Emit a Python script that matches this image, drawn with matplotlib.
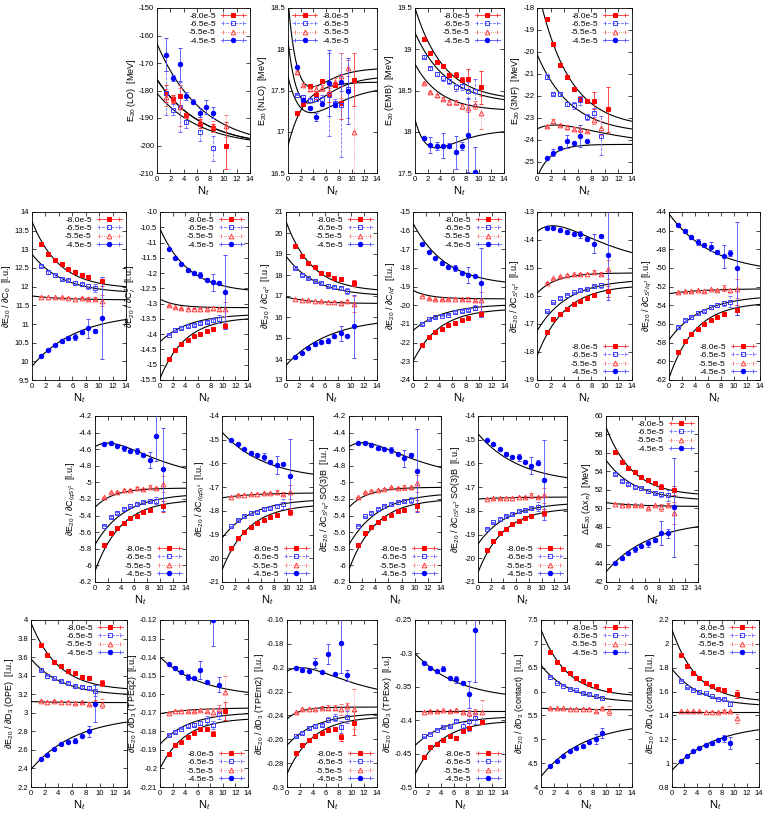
import numpy as np
import matplotlib
matplotlib.use('Agg')
import matplotlib.pyplot as plt
from matplotlib.lines import Line2D
from matplotlib.legend_handler import HandlerLine2D
from matplotlib.ticker import MultipleLocator, FuncFormatter

plt.rcParams['font.family'] = ['Liberation Sans', 'DejaVu Sans']
plt.rcParams['mathtext.fontset'] = 'custom'
plt.rcParams['mathtext.rm'] = 'Liberation Sans'
plt.rcParams['mathtext.it'] = 'Liberation Sans:italic'

N = np.nan
nt = [1.4, 2.4, 3.4, 4.4, 5.4, 6.4, 7.4, 8.4, 9.4, 10.4]
series_labels = ['-8.0e-5', '-6.5e-5', '-5.5e-5', '-4.5e-5']

# ---- row 1 ----
lo_vals = [[-181, -183, -182, -189, N, -192, N, -193.5, N, -200],
           [-181, -187, -186, -191.5, N, -195, N, -201, N, N],
           [-182.5, -183, -186, -189, N, -191, N, -193, N, -193],
           [-167, -175.5, -170.5, -182, -184, -188, -186, -188, N, N]]
lo_errs = [[3, 1.5, 4, 1, 0, 1.5, 0, 1.5, 0, 8.5],
           [8, 2, 9, 2, 0, 3.5, 0, 4.5, 0, 0],
           [3, 1, 7, 1, 0, 1.5, 0, 2, 0, 4],
           [6, 1, 6, 1.5, 1, 1.5, 2.5, 2, 0, 0]]
lo_fits = [(-176, -197.5, 0.15, 0), (-181, -198, 0.15, 0),
           (-176, -197.5, 0.15, 0), (-163, -196, 0.15, 0)]

nlo_vals = [[17.23, 17.34, 17.56, 17.45, 17.62, 17.46, 17.57, 17.35, N, 17.63],
            [17.45, 17.42, 17.38, 17.40, 17.40, 17.45, 17.35, 17.33, 17.52, N],
            [17.72, 17.57, 17.52, 17.52, 17.53, 17.48, 17.60, 17.68, 17.77, 17.0],
            [17.79, 17.38, 17.29, 17.18, 17.34, 17.59, 17.33, 17.60, 17.49, N]]
nlo_errs = [[0.01, 0.03, 0.02, 0.05, 0.01, 0.1, 0.03, 0.2, 0, 0.32],
            [0.01, 0.02, 0.02, 0.03, 0.05, 0.5, 0.05, 0.63, 0.35, 0],
            [0.02, 0.02, 0.03, 0.03, 0.04, 0.05, 0.05, 0.27, 0.1, 0.95],
            [0.01, 0.03, 0.02, 0.05, 0.02, 0.4, 0.03, 0.1, 0.4, 0]]
nlo_fits = [(16.83, 17.6, 0.4, 0), (17.67, 17.5, 0.3, -0.3),
            (18.6, 17.76, 0.45, -0.55), (18.1, 17.65, 0.4, -0.5)]

emb_vals = [[19.13, 18.95, 18.85, 18.80, 18.69, 18.69, 18.63, 18.64, N, 18.54],
            [18.91, 18.77, 18.70, 18.65, 18.62, 18.54, 18.56, 18.50, 18.49, N],
            [18.59, 18.48, 18.44, 18.40, 18.36, 18.36, 18.31, 18.29, 18.32, 18.23],
            [17.92, 17.84, 17.83, 17.83, 17.83, 17.75, 17.83, 17.96, 17.51, N]]
emb_errs = [[0.01, 0.02, 0.02, 0.02, 0.02, 0.03, 0.03, 0.12, 0, 0.2],
            [0.02, 0.02, 0.03, 0.03, 0.04, 0.04, 0.05, 0.1, 0.15, 0],
            [0.01, 0.01, 0.02, 0.02, 0.03, 0.03, 0.03, 0.05, 0.05, 0.2],
            [0.02, 0.1, 0.05, 0.15, 0.03, 0.2, 0.05, 0.45, 0.3, 0]]
emb_fits = [(19.5, 18.43, 0.22, 0), (19.2, 18.39, 0.2, 0),
            (18.82, 18.27, 0.25, 0), (18.15, 18.0, 0.35, -0.25)]

tnf_vals = [[-18.5, -19.64, -20.59, -21.14, -21.67, -22.12, -22.24, -22.21, N, -22.6],
            [-21.12, -21.9, -21.93, -22.36, -22.42, -22.2, -22.95, -22.75, -23.8, N],
            [-23.37, -23.13, -23.32, -23.40, -23.48, -23.48, -23.6, -23.07, -23.45, N],
            [-24.8, -24.57, -24.37, -24.05, -24.13, -23.83, -24.03, N, N, N]]
tnf_errs = [[0.02, 0.1, 0.05, 0.05, 0.05, 0.1, 0.05, 0.38, 0, 1.02],
            [0.1, 0.05, 0.05, 0.1, 0.15, 0.2, 0.15, 0.2, 0.9, 0],
            [0.03, 0.08, 0.05, 0.1, 0.05, 0.15, 0.05, 0.2, 0.3, 0],
            [0.05, 0.15, 0.05, 0.3, 0.05, 0.5, 0.05, 0, 0, 0]]
tnf_fits = [(-17.0, -23.15, 0.22, 0), (-20.1, -23.5, 0.2, 0),
            (-23.5, -23.9, 0.2, 0.3), (-25.7, -24.2, 0.5, 0)]

# ---- row 2 ----
c0_vals = [[13.15, 12.88, 12.72, 12.60, 12.46, 12.40, 12.32, 12.25, N, 12.15],
           [12.55, 12.38, 12.30, 12.21, 12.17, 12.10, 12.06, 12.01, 11.97, N],
           [11.73, 11.72, 11.72, 11.71, 11.70, 11.68, 11.69, 11.67, 11.68, 11.62],
           [10.15, 10.30, 10.44, 10.55, 10.63, 10.66, 10.79, 10.88, 10.81, 11.17]]
c0_errs = [[.02, .02, .02, .02, .02, .02, .03, .04, 0, .12],
           [.02, .03, .03, .03, .03, .04, .04, .06, .1, 0],
           [.01, .01, .01, .01, .01, .02, .02, .04, .04, .15],
           [.02, .03, .03, .05, .05, .08, .05, .25, .05, 1.1]]
c0_fits = [(13.75, 12.0, 0.25, 0), (12.87, 11.87, 0.22, 0),
           (11.75, 11.65, 0.2, 0), (9.87, 11.12, 0.15, 0)]

ci_vals = [[-14.8, -14.52, -14.32, -14.20, -14.05, -14.0, -13.88, -13.82, N, -13.72],
           [-14.02, -13.87, -13.80, -13.73, -13.70, -13.63, -13.60, -13.55, -13.50, N],
           [-13.05, -13.12, -13.15, -13.16, -13.16, -13.16, -13.17, -13.15, -13.18, -13.17],
           [-11.2, -11.5, -11.71, -11.9, -12.01, -12.06, -12.21, -12.3, -12.31, -12.62]]
ci_errs = [[.02, .02, .02, .02, .02, .02, .02, .03, 0, .1],
           [.02, .02, .02, .02, .03, .03, .04, .05, .12, 0],
           [.02, .02, .02, .02, .02, .02, .03, .05, .05, .22],
           [.02, .03, .03, .05, .05, .1, .05, .28, .05, 1.22]]
ci_fits = [(-15.45, -13.5, 0.25, 0), (-14.25, -13.38, 0.22, 0),
           (-12.85, -13.13, 0.4, 0), (-10.55, -12.55, 0.22, 0)]

cq_vals = [[19.4, 18.9, 18.55, 18.38, 18.1, 18.05, 17.87, 17.8, N, 17.62],
           [18.32, 18.0, 17.85, 17.72, 17.62, 17.5, 17.45, 17.37, 17.25, N],
           [16.87, 16.81, 16.8, 16.76, 16.75, 16.73, 16.73, 16.65, 16.75, 16.62],
           [14.1, 14.3, 14.52, 14.7, 14.82, 14.88, 15.08, 15.22, 15.08, 15.55]]
cq_errs = [[.03, .03, .03, .03, .03, .04, .04, .05, 0, .15],
           [.03, .03, .03, .04, .04, .05, .05, .07, .15, 0],
           [.02, .02, .02, .02, .02, .03, .03, .1, .05, .4],
           [.03, .05, .05, .1, .08, .12, .08, .35, .05, 1.5]]
cq_fits = [(20.55, 17.3, 0.25, 0), (18.9, 17.07, 0.22, 0),
           (16.95, 16.65, 0.25, 0), (13.7, 15.7, 0.15, 0)]

ciq_vals = [[-22.1, -21.72, -21.45, -21.25, -21.05, -20.92, -20.78, -20.68, N, -20.48],
            [-21.0, -20.75, -20.65, -20.55, -20.5, -20.38, -20.32, -20.25, -20.12, N],
            [-19.5, -19.62, -19.68, -19.68, -19.68, -19.65, -19.68, -19.65, -19.7, -19.7],
            [-16.7, -17.15, -17.48, -17.75, -17.92, -18.0, -18.25, -18.38, -18.43, -18.8]]
ciq_errs = [[.03, .03, .03, .03, .03, .04, .04, .05, 0, .15],
            [.03, .03, .03, .04, .04, .05, .05, .07, .15, 0],
            [.02, .02, .02, .02, .03, .03, .03, .1, .05, .4],
            [.03, .05, .05, .1, .08, .15, .08, .45, .05, 1.85]]
ciq_fits = [(-23.0, -20.25, 0.25, 0), (-21.35, -20.0, 0.22, 0),
            (-19.2, -19.65, 0.4, 0), (-15.6, -18.75, 0.2, 0)]

csq_vals = [[-17.27, -16.83, -16.63, -16.45, -16.28, -16.18, -16.07, -15.98, N, -15.83],
            [-16.55, -16.23, -16.08, -15.95, -15.87, -15.78, -15.75, -15.66, -15.62, N],
            [-15.52, -15.37, -15.3, -15.25, -15.22, -15.2, -15.2, -15.15, -15.2, -15.05],
            [-13.58, -13.56, -13.65, -13.72, -13.78, -13.8, -13.95, -14.13, -13.87, -14.55]]
csq_errs = [[.02, .02, .02, .02, .02, .03, .03, .04, 0, .2],
            [.02, .02, .03, .03, .03, .04, .04, .05, .1, 0],
            [.02, .02, .02, .02, .02, .03, .03, .08, .05, .35],
            [.02, .03, .05, .08, .05, .12, .05, .35, .05, 1.6]]
csq_fits = [(-18.15, -15.68, 0.25, 0), (-17.25, -15.48, 0.22, 0),
            (-15.9, -15.18, 0.35, 0), (-13.7, -14.45, 0.2, 0.45)]

csiq_vals = [[-59.05, -57.8, -57.05, -56.5, -55.95, -55.6, -55.25, -54.95, N, -54.5],
             [-56.3, -55.6, -55.2, -54.8, -54.6, -54.2, -54.0, -53.8, -53.6, N],
             [-52.6, -52.5, -52.5, -52.4, -52.45, -52.3, -52.35, -52.15, -52.4, -52.2],
             [-45.4, -46.05, -46.7, -47.2, -47.55, -47.7, -48.3, -48.75, -48.4, -50.05]]
csiq_errs = [[.1, .1, .1, .1, .1, .15, .15, .2, 0, .5],
             [.1, .1, .1, .15, .15, .2, .2, .3, .55, 0],
             [.05, .05, .05, .08, .08, .1, .1, .35, .2, 1.0],
             [.1, .2, .15, .3, .2, .5, .2, 1.2, .3, 5.0]]
csiq_fits = [(-61.8, -53.9, 0.25, 0), (-57.7, -53.2, 0.2, 0),
             (-52.75, -52.25, 0.2, 0), (-44.2, -49.8, 0.15, 0)]

# ---- row 3 ----
cqs_vals = [[-5.75, -5.61, -5.55, -5.49, -5.43, -5.40, -5.36, -5.33, N, -5.29],
            [-5.52, -5.42, -5.37, -5.32, -5.29, -5.26, -5.24, -5.22, -5.22, N],
            [-5.18, -5.12, -5.11, -5.09, -5.09, -5.07, -5.08, -5.06, -5.07, -5.02],
            [-4.54, -4.53, -4.56, -4.59, -4.62, -4.62, -4.67, -4.73, -4.44, -4.84]]
cqs_errs = [[.01, .01, .01, .01, .01, .01, .01, .015, 0, .07],
            [.01, .01, .01, .01, .01, .015, .015, .02, .04, 0],
            [.005, .005, .005, .01, .01, .01, .01, .025, .015, .1],
            [.01, .015, .01, .03, .01, .04, .01, .1, .3, .5]]
cqs_fits = [(-6.07, -5.23, 0.25, 0), (-5.75, -5.16, 0.22, 0),
            (-5.3, -5.07, 0.35, 0), (-4.57, -4.83, 0.2, 0.13)]

ciqs_vals = [[-19.55, -19.15, -18.88, -18.7, -18.5, -18.37, -18.27, -18.17, N, -18.03],
             [-18.65, -18.38, -18.22, -18.1, -18.05, -17.93, -17.87, -17.8, -17.72, N],
             [-17.4, -17.33, -17.32, -17.3, -17.28, -17.25, -17.25, -17.2, -17.27, -17.2],
             [-15.0, -15.18, -15.38, -15.55, -15.66, -15.72, -15.92, -16.05, -16.02, -16.55]]
ciqs_errs = [[.02, .02, .02, .02, .02, .03, .03, .04, 0, .15],
             [.02, .02, .03, .03, .03, .04, .04, .06, .2, 0],
             [.02, .02, .02, .02, .02, .03, .03, .1, .05, .3],
             [.02, .04, .04, .08, .05, .15, .05, .38, .05, 1.6]]
ciqs_fits = [(-20.5, -17.8, 0.25, 0), (-19.15, -17.57, 0.22, 0),
             (-17.45, -17.25, 0.2, 0), (-14.68, -16.45, 0.15, 0)]

csb_vals = [[-5.75, -5.61, -5.54, -5.48, -5.43, -5.39, -5.35, -5.33, N, -5.28],
            [-5.52, -5.41, -5.37, -5.32, -5.28, -5.26, -5.24, -5.22, -5.21, N],
            [-5.18, -5.12, -5.10, -5.09, -5.08, -5.06, -5.07, -5.06, -5.06, -5.01],
            [-4.53, -4.52, -4.55, -4.58, -4.60, -4.61, -4.66, -4.71, -4.67, -4.86]]
csb_errs = [[.01, .01, .01, .01, .01, .01, .01, .015, 0, .07],
            [.01, .01, .01, .01, .01, .015, .015, .02, .04, 0],
            [.005, .005, .005, .01, .01, .01, .01, .03, .015, .1],
            [.01, .015, .01, .03, .01, .04, .01, .1, .03, .5]]
csb_fits = [(-6.05, -5.22, 0.25, 0), (-5.75, -5.15, 0.22, 0),
            (-5.3, -5.06, 0.35, 0), (-4.57, -4.82, 0.2, 0.13)]

cisb_vals = [[-19.65, -19.27, -18.95, -18.75, -18.55, -18.42, -18.32, -18.23, N, -18.08],
             [-18.75, -18.48, -18.35, -18.2, -18.13, -18.02, -17.95, -17.88, -17.82, N],
             [-17.48, -17.47, -17.47, -17.45, -17.45, -17.4, -17.42, -17.35, -17.42, -17.35],
             [-15.02, -15.2, -15.4, -15.6, -15.72, -15.75, -15.93, -16.1, -15.97, -16.7]]
cisb_errs = [[.02, .02, .02, .02, .02, .03, .03, .04, 0, .15],
             [.02, .02, .03, .03, .03, .04, .04, .06, .2, 0],
             [.02, .02, .02, .02, .02, .03, .03, .1, .05, .3],
             [.02, .04, .04, .08, .05, .15, .05, .35, .1, 1.7]]
cisb_fits = [(-20.6, -17.95, 0.25, 0), (-19.4, -17.72, 0.22, 0),
             (-17.5, -17.42, 0.2, 0), (-14.75, -16.6, 0.15, 0)]

dx_vals = [[56.1, 55.0, 54.4, 53.9, 53.35, 53.1, 52.75, 52.35, N, 51.95],
           [53.7, 52.95, 52.65, 52.3, 52.15, 51.9, 51.7, 51.5, 51.4, N],
           [50.5, 50.35, 50.3, 50.3, 50.3, 50.0, 50.3, 50.1, 50.4, 49.5],
           [44.1, 44.55, 45.1, 45.55, 45.9, 46.2, 46.55, 47.3, 47.3, 50.1]]
dx_errs = [[.1, .1, .1, .1, .1, .15, .15, .25, 0, .5],
           [.1, .1, .1, .15, .15, .2, .2, .3, .6, 0],
           [.05, .05, .05, .08, .08, .1, .1, .4, .2, 1.2],
           [.1, .15, .15, .25, .15, .4, .2, 1.3, .5, 5.4]]
dx_fits = [(58.8, 51.55, 0.25, 0), (55.2, 51.0, 0.22, 0),
           (50.6, 50.2, 0.2, 0), (43.1, 48.0, 0.15, 0)]

# ---- row 4 ----
ope_vals = [[3.73, 3.62, 3.55, 3.5, 3.45, 3.43, 3.39, 3.37, N, 3.32],
            [3.46, 3.40, 3.37, 3.34, 3.32, 3.29, 3.28, 3.27, 3.24, N],
            [3.13, 3.12, 3.13, 3.12, 3.12, 3.11, 3.12, 3.10, 3.12, 3.10],
            [2.50, 2.55, 2.61, 2.66, 2.69, 2.70, 2.75, 2.80, 3.10, N]]
ope_errs = [[.005, .005, .005, .005, .005, .008, .008, .01, 0, .03],
            [.005, .005, .005, .008, .008, .01, .01, .015, .06, 0],
            [.005, .005, .005, .005, .005, .01, .01, .02, .02, .05],
            [.005, .01, .01, .01, .01, .03, .01, .06, .2, 0]]
ope_fits = [(3.97, 3.26, 0.25, 0), (3.58, 3.2, 0.22, 0),
            (3.12, 3.11, 0.2, 0), (2.39, 2.9, 0.15, 0)]

tq_vals = [[-0.192, -0.1875, -0.186, -0.183, -0.181, -0.179, -0.179, -0.1812, N, -0.169],
           [-0.182, -0.1805, -0.1785, -0.177, -0.1765, -0.1755, -0.174, -0.1765, -0.1705, N],
           [-0.170, -0.169, -0.169, -0.169, -0.169, -0.1685, -0.169, -0.1695, -0.168, -0.159],
           [-0.1437, -0.1458, -0.148, -0.1508, -0.1515, -0.147, -0.1535, -0.1202, -0.1548, N]]
tq_errs = [[.0005, .0005, .0005, .0005, .0005, .0008, .0008, .0015, 0, .005],
           [.0005, .0005, .0005, .0008, .0008, .001, .002, .002, .003, 0],
           [.0003, .0003, .0003, .0005, .0005, .0008, .0008, .002, .002, .009],
           [.0005, .001, .0005, .0015, .0005, .005, .0005, .014, .004, 0]]
tq_fits = [(-0.2, -0.1735, 0.25, 0), (-0.187, -0.1705, 0.22, 0),
           (-0.1705, -0.1675, 0.2, 0), (-0.140, -0.159, 0.15, 0)]

tm_vals = [[-0.2715, -0.2645, -0.2605, -0.2575, -0.2545, -0.252, -0.2515, -0.2585, N, -0.2465],
           [-0.2575, -0.2545, -0.2505, -0.249, -0.248, -0.2435, -0.242, -0.2495, -0.241, N],
           [-0.2375, -0.2345, -0.2345, -0.2345, -0.2335, -0.2335, -0.2335, -0.235, -0.2325, -0.2345],
           [-0.200, -0.2015, -0.2025, -0.196, -0.2035, -0.1885, -0.2055, -0.1795, -0.2065, N]]
tm_errs = [[.0005, .001, .0005, .0005, .0005, .001, .001, .003, 0, .01],
           [.0005, .001, .001, .001, .001, .002, .003, .005, .005, 0],
           [.0005, .001, .0005, .001, .001, .002, .002, .005, .003, .017],
           [.0005, .002, .001, .004, .001, .008, .001, .025, .005, 0]]
tm_fits = [(-0.289, -0.242, 0.25, 0), (-0.265, -0.239, 0.22, 0),
           (-0.243, -0.233, 0.5, 0), (-0.203, -0.218, 0.2, 0.008)]

tx_vals = [[-0.455, -0.44, -0.436, -0.429, -0.423, -0.426, -0.416, -0.411, N, -0.402],
           [-0.424, -0.42, -0.414, -0.41, -0.409, -0.401, -0.408, -0.401, -0.397, N],
           [-0.387, -0.386, -0.386, -0.385, -0.386, -0.385, -0.387, -0.389, -0.388, -0.388],
           [-0.314, -0.322, -0.327, -0.323, -0.337, -0.339, -0.344, -0.361, -0.265, N]]
tx_errs = [[.001, .001, .001, .001, .001, .001, .001, .003, 0, .003],
           [.001, .001, .001, .001, .001, .002, .005, .015, .008, 0],
           [.001, .001, .001, .001, .001, .002, .002, .005, .005, .018],
           [.001, .003, .002, .004, .002, .005, .002, .02, .078, 0]]
tx_fits = [(-0.481, -0.403, 0.25, 0), (-0.438, -0.396, 0.22, 0),
           (-0.386, -0.386, 0.2, 0), (-0.300, -0.361, 0.15, 0)]

ct3_vals = [[6.83, 6.62, 6.48, 6.38, 6.28, 6.22, 6.15, 6.11, N, 6.03],
            [6.31, 6.18, 6.12, 6.06, 6.03, 5.98, 5.95, 5.91, 5.87, N],
            [5.65, 5.65, 5.65, 5.64, 5.64, 5.64, 5.64, 5.60, 5.66, 5.60],
            [4.45, 4.55, 4.66, 4.76, 4.81, 4.85, 4.94, 5.01, 5.13, N]]
ct3_errs = [[.01, .01, .01, .01, .01, .01, .01, .015, 0, .04],
            [.01, .01, .01, .01, .01, .015, .015, .02, .04, 0],
            [.005, .005, .005, .005, .005, .01, .01, .03, .02, .1],
            [.01, .01, .01, .02, .01, .04, .02, .1, .1, 0]]
ct3_fits = [(7.3, 5.93, 0.25, 0), (6.55, 5.8, 0.22, 0),
            (5.65, 5.62, 0.2, 0), (4.22, 5.22, 0.15, 0)]

ct4_vals = [[1.905, 1.815, 1.755, 1.715, 1.67, 1.65, 1.625, 1.61, N, 1.58],
            [1.69, 1.635, 1.615, 1.595, 1.585, 1.56, 1.54, 1.535, 1.5, N],
            [1.435, 1.435, 1.435, 1.435, 1.43, 1.43, 1.425, 1.435, 1.435, 1.375],
            [1.02, 1.06, 1.10, 1.13, 1.15, 1.165, 1.195, 1.21, 1.17, N]]
ct4_errs = [[.003, .003, .003, .003, .003, .004, .004, .006, 0, .03],
            [.003, .003, .003, .004, .004, .005, .005, .008, .02, 0],
            [.002, .002, .002, .002, .002, .003, .003, .008, .005, .04],
            [.003, .005, .005, .008, .005, .01, .005, .03, .05, 0]]
ct4_fits = [(2.12, 1.53, 0.25, 0), (1.79, 1.49, 0.22, 0),
            (1.43, 1.43, 0.2, 0), (0.94, 1.28, 0.15, 0)]

styles = [dict(color='#ff0000', ecolor='#ff3030', marker='s', mfc='#ff0000', ls='-', ms=3.0),
          dict(color='#3a3aff', ecolor='#7070ff', marker='s', mfc='none', ls='--', ms=3.4),
          dict(color='#ff3a3a', ecolor='#ff7070', marker='^', mfc='none', ls=':', ms=3.4),
          dict(color='#0000ff', ecolor='#5050ff', marker='o', mfc='#0000ff', ls='-', ms=3.2)]


def fit_curve(x, y0, y14, k, c):
    E = np.exp(-14 * k)
    a = (y14 - (y0 + 14 * c) * E) / (1 - E)
    return a + (y0 - a + c * x) * np.exp(-k * x)


W, H = 764, 816
fig = plt.figure(figsize=(W / 100, H / 100), dpi=100)
fmt = FuncFormatter(lambda v, p: '%g' % round(v, 6))


def draw_panel(px, vals, errs, fits, ylim, ystep, ylabel, loc):
    l, r, t, b = px
    ax = fig.add_axes([l / W, 1 - b / H, (r - l) / W, (b - t) / H])
    xs = np.linspace(0, 14, 300)
    for f in fits:
        ax.plot(xs, fit_curve(xs, *f), color='black', lw=0.8, zorder=2)
    for v, e, st in zip(vals, errs, styles):
        eb = ax.errorbar(nt, v, yerr=e, fmt=st['marker'], color=st['color'],
                         mfc=st['mfc'], mec=st['color'], ms=st['ms'], mew=0.7,
                         ecolor=st['ecolor'], elinewidth=0.6, capsize=1.5,
                         capthick=0.6, zorder=3)
        eb[2][0].set_linestyle(st['ls'])
    ax.set_xlim(0, 14)
    ax.set_ylim(*ylim)
    ax.xaxis.set_major_locator(MultipleLocator(2))
    ax.yaxis.set_major_locator(MultipleLocator(ystep))
    ax.xaxis.set_major_formatter(fmt)
    ax.yaxis.set_major_formatter(fmt)
    ax.tick_params(direction='in', top=True, right=True, length=3, width=0.5,
                   labelsize=5.5, pad=2)
    for s in ax.spines.values():
        s.set_linewidth(0.6)
    ax.set_xlabel('N$_t$', fontsize=8, labelpad=1)
    ax.set_ylabel(ylabel, fontsize=6.5, labelpad=1)

    handles = []
    hmap = {}
    for st in styles:
        main = Line2D([], [], color=st['ecolor'], ls=st['ls'], lw=0.6,
                      marker=st['marker'], mfc=st['mfc'], mec=st['color'],
                      ms=st['ms'], mew=0.7)
        caps = Line2D([], [], color=st['ecolor'], ls='none', marker='|',
                      ms=3.5, mew=0.6)
        hmap[caps] = HandlerLine2D(numpoints=2)
        handles.append((main, caps))
    reverse = loc == 'upper left'
    ax.legend(handles, series_labels, loc=loc, handler_map=hmap,
              numpoints=1, markerfirst=reverse, frameon=False,
              fontsize=6, handlelength=3.0, handletextpad=0.6,
              labelspacing=0.05, borderaxespad=0.3, borderpad=0.2)
    return ax


r1 = (8, 173)
r2 = (212, 380)
r3 = (416, 582)
r4 = (620, 787)

panels = [
    ((157, 250) + r1, lo_vals, lo_errs, lo_fits, (-210, -150), 10,
     'E$_{20}$ (LO)  [MeV]', 'upper right'),
    ((288, 377) + r1, nlo_vals, nlo_errs, nlo_fits, (16.5, 18.5), 0.5,
     'E$_{20}$ (NLO)  [MeV]', 'upper left'),
    ((415, 504) + r1, emb_vals, emb_errs, emb_fits, (17.5, 19.5), 0.5,
     'E$_{20}$ (EMB)  [MeV]', 'upper right'),
    ((537, 632) + r1, tnf_vals, tnf_errs, tnf_fits, (-25.5, -18), 1,
     'E$_{20}$ (3NF)  [MeV]', 'upper right'),

    ((32, 126) + r2, c0_vals, c0_errs, c0_fits, (9.5, 14), 0.5,
     '∂E$_{20}$ / ∂C$_0$  [l.u.]', 'upper right'),
    ((160, 248) + r2, ci_vals, ci_errs, ci_fits, (-15.5, -10), 0.5,
     '∂E$_{20}$ / ∂C$_I^2$  [l.u.]', 'upper right'),
    ((286, 377) + r2, cq_vals, cq_errs, cq_fits, (13, 21), 1,
     '∂E$_{20}$ / ∂C$_{q^2}$  [l.u.]', 'upper right'),
    ((413, 505) + r2, ciq_vals, ciq_errs, ciq_fits, (-24, -15), 1,
     '∂E$_{20}$ / ∂C$_{I q^2}$  [l.u.]', 'upper right'),
    ((537, 632) + r2, csq_vals, csq_errs, csq_fits, (-19, -13), 1,
     '∂E$_{20}$ / ∂C$_{S^2 q^2}$  [l.u.]', 'lower right'),
    ((669, 760) + r2, csiq_vals, csiq_errs, csiq_fits, (-62, -44), 2,
     '∂E$_{20}$ / ∂C$_{S^2 I q^2}$ [l.u.]', 'lower right'),

    ((95, 186) + r3, cqs_vals, cqs_errs, cqs_fits, (-6.2, -4.2), 0.2,
     '∂E$_{20}$ / ∂C$_{(qS)^2}$  [l.u.]', 'lower right'),
    ((222, 313) + r3, ciqs_vals, ciqs_errs, ciqs_fits, (-21, -14), 1,
     '∂E$_{20}$ / ∂C$_{I(qS)^2}$  [l.u.]', 'lower right'),
    ((349, 441) + r3, csb_vals, csb_errs, csb_fits, (-6.2, -4.2), 0.2,
     '∂E$_{20}$ / ∂C$_{S^2 q^2}$ SO(3)B  [l.u.]', 'lower right'),
    ((478, 567) + r3, cisb_vals, cisb_errs, cisb_fits, (-21, -14), 1,
     '∂E$_{20}$ / ∂C$_{I S^2 q^2}$ SO(3)B  [l.u.]', 'lower right'),
    ((606, 698) + r3, dx_vals, dx_errs, dx_fits, (42, 60), 2,
     'ΔE$_{20}$ (Δx$_π$)  [MeV]', 'upper right'),

    ((31, 127) + r4, ope_vals, ope_errs, ope_fits, (2.2, 4), 0.2,
     '∂E$_{20}$ / ∂D$_3$ (OPE)  [l.u.]', 'upper right'),
    ((160, 248) + r4, tq_vals, tq_errs, tq_fits, (-0.21, -0.12), 0.01,
     '∂E$_{20}$ / ∂D$_3$ (TPEq2)  [l.u.]', 'lower right'),
    ((287, 377) + r4, tm_vals, tm_errs, tm_fits, (-0.3, -0.16), 0.02,
     '∂E$_{20}$ / ∂D$_3$ (TPEm2)  [l.u.]', 'lower right'),
    ((415, 505) + r4, tx_vals, tx_errs, tx_fits, (-0.5, -0.25), 0.05,
     '∂E$_{20}$ / ∂D$_3$ (TPExx)  [l.u.]', 'lower right'),
    ((541, 632) + r4, ct3_vals, ct3_errs, ct3_fits, (4, 7.5), 0.5,
     '∂E$_{20}$ / ∂D$_3$ (contact)  [l.u.]', 'upper right'),
    ((672, 759) + r4, ct4_vals, ct4_errs, ct4_fits, (0.8, 2.2), 0.2,
     '∂E$_{20}$ / ∂D$_4$ (contact)  [l.u.]', 'upper right'),
]

for p in panels:
    draw_panel(*p)

fig.savefig('out.png', dpi=100)
